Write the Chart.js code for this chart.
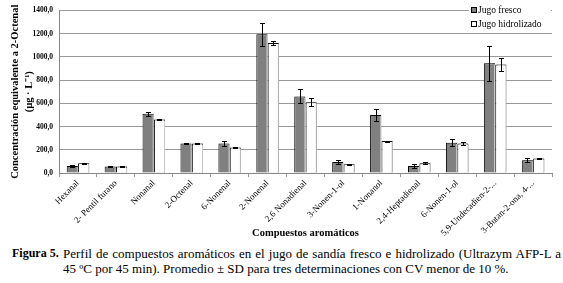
<!DOCTYPE html>
<html>
<head>
<meta charset="utf-8">
<script src="https://cdn.jsdelivr.net/npm/chart.js@4"></script>
<style>
  body { margin: 0; background: #fff; }
  #wrap { position: relative; width: 563px; height: 240px; }
  .cap { font-family: "Liberation Serif", serif; font-size: 13px; line-height: 15px; color: #000;
         position: absolute; left: 12px; top: 246px; width: 549px; }
  .cap b { position: absolute; left: 0; top: 0; font-size: 12px; }
  .cap div { margin-left: 51px; text-align: justify; }
</style>
</head>
<body>
<div id="wrap"><canvas id="chart"></canvas></div>
<div class="cap"><b>Figura 5.</b><div>Perfil de compuestos aromáticos en el jugo de sandía fresco e hidrolizado (Ultrazym AFP-L a 45 ºC por 45 min). Promedio ± SD para tres determinaciones con CV menor de 10 %.</div></div>
<script>
let compounds = ['Hexanal', '2- Pentil furano', 'Nonanal', '2-Octenal', '6-Nonenal', '2-Nonenal', '2,6 Nonadienal',
  '3-Nonen-1-ol', '1-Nonanol', '2,4-Heptadienal', '6-Nonen-1-ol', '5,9-Undecadien-2-...', '3-Butan-2-ona, 4-...'];

let fresco = [60, 55, 510, 255, 255, 1195, 660, 95, 500, 60, 260, 945, 110];
let frescoSD = [10, 3, 15, 3, 20, 100, 60, 20, 50, 15, 30, 150, 15];

let hidrolizado = [85, 55, 460, 255, 220, 1120, 610, 75, 275, 85, 255, 935, 125];
let hidrolizadoSD = [5, 3, 5, 3, 5, 20, 35, 5, 5, 8, 12, 60, 5];

let yTicks = [0, 200, 400, 600, 800, 1000, 1200, 1400];

let errors = [frescoSD, hidrolizadoSD];

let errorBars = {
  id: 'errorBars',
  beforeDatasetsDraw(chart) {
    let ctx = chart.ctx;
    ctx.save();
    ctx.shadowColor = '#c8c8c8';
    ctx.shadowOffsetX = 2;
    ctx.shadowOffsetY = 0;
  },
  afterDatasetsDraw(chart) {
    let ctx = chart.ctx;
    ctx.restore();
    let y = chart.scales.y;
    ctx.save();
    ctx.strokeStyle = '#000';
    ctx.lineWidth = 1;
    chart.data.datasets.forEach((ds, i) => {
      let meta = chart.getDatasetMeta(i);
      meta.data.forEach((bar, j) => {
        let v = ds.data[j], e = errors[i][j];
        let top = Math.round(y.getPixelForValue(v + e)) + 0.5;
        let bot = Math.round(y.getPixelForValue(v - e)) + 0.5;
        let x = Math.round(bar.x) + 0.5;
        ctx.beginPath();
        ctx.moveTo(x, top); ctx.lineTo(x, bot);
        ctx.moveTo(x - 2.5, top); ctx.lineTo(x + 2.5, top);
        ctx.moveTo(x - 2.5, bot); ctx.lineTo(x + 2.5, bot);
        ctx.stroke();
      });
    });
    ctx.restore();
  },
  afterDraw(chart) {
    let ctx = chart.ctx;
    let area = chart.chartArea;
    ctx.save();
    ctx.font = '9.5px "Liberation Serif"';
    ctx.textBaseline = 'middle';
    let x0 = area.right - 81;
    chart.data.datasets.forEach((ds, i) => {
      let yy = 10 + i * 14;
      ctx.fillStyle = '#fff';
      ctx.fillRect(x0 - 2, yy - 6, 82, 12);
      ctx.fillStyle = ds.backgroundColor;
      ctx.strokeStyle = '#000';
      ctx.lineWidth = 1;
      ctx.fillRect(x0 + 0.5, yy - 2.5, 5, 5);
      ctx.strokeRect(x0 + 0.5, yy - 2.5, 5, 5);
      ctx.fillStyle = '#000';
      ctx.fillText(ds.label, x0 + 7, yy);
    });
    ctx.restore();
  }
};

let ctx = document.getElementById('chart').getContext('2d');
let chart = new Chart(ctx, {
  type: 'bar',
  data: {
    labels: compounds,
    datasets: [{
      label: 'Jugo fresco',
      data: fresco,
      backgroundColor: '#808080',
      borderColor: '#000',
      borderWidth: 1,
    }, {
      label: 'Jugo hidrolizado',
      data: hidrolizado,
      backgroundColor: '#ffffff',
      borderColor: '#000',
      borderWidth: 1,
    }]
  },
  options: {
    responsive: true,
    maintainAspectRatio: false,
    animation: false,
    layout: { padding: { top: 2, right: 11, left: 0, bottom: 0 } },
    datasets: { bar: { categoryPercentage: 0.6, barPercentage: 0.98 } },
    plugins: {
      legend: { display: false },
      tooltip: { enabled: false },
    },
    scales: {
      x: {
        grid: { drawOnChartArea: false, drawTicks: true, tickLength: 4, color: '#999', offset: true },
        border: { color: '#888' },
        ticks: {
          minRotation: 45, maxRotation: 45, autoSkip: false, padding: 1,
          color: '#000',
          font: { family: 'Liberation Serif', size: 9 },
        },
        title: {
          display: true,
          text: 'Compuestos aromáticos',
          color: '#000',
          padding: { top: 0, bottom: 0 },
          font: { family: 'Liberation Serif', size: 10.5, weight: 'bold' },
        },
        afterFit(scale) { scale.height = 67; },
      },
      y: {
        min: 0,
        max: 1400,
        afterBuildTicks(scale) { scale.ticks = yTicks.map(v => ({ value: v })); },
        grid: { color: '#999', drawTicks: false },
        border: { color: '#888' },
        ticks: {
          padding: 6,
          color: '#000',
          font: { family: 'Liberation Serif', size: 7.5, weight: 'bold' },
          callback: v => v.toFixed(1).replace('.', ','),
        },
        title: {
          display: true,
          text: ['Concentración equivalente a 2-Octenal', '(µg · L⁻¹)'],
          color: '#000',
          padding: { top: 8, bottom: 0 },
          font: { family: 'Liberation Serif', size: 10.5, weight: 'bold', lineHeight: 1.35 },
        },
        afterFit(scale) { scale.width = 59; },
      }
    }
  },
  plugins: [errorBars]
});
</script>
</body>
</html>
